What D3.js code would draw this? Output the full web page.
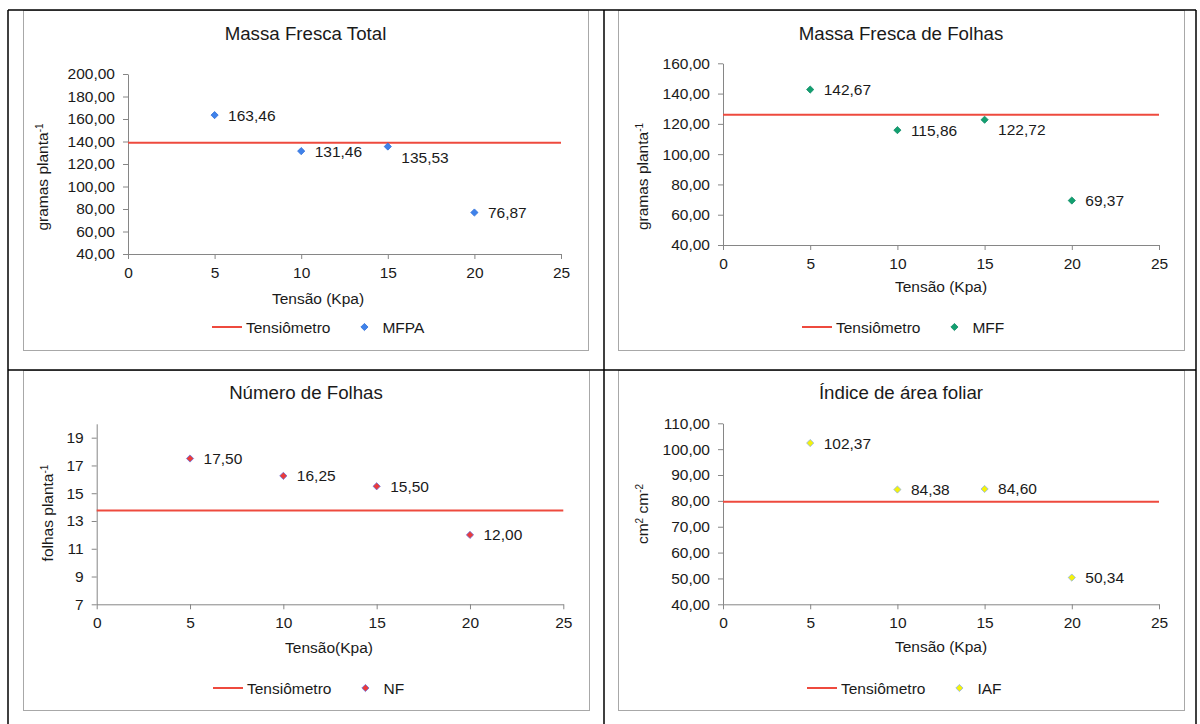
<!DOCTYPE html>
<html>
<head>
<meta charset="utf-8">
<script src="https://cdn.jsdelivr.net/npm/d3@7/dist/d3.min.js"></script>
<style>
  html, body { margin: 0; padding: 0; background: #ffffff; }
  svg { display: block; font-family: "Liberation Sans", Arial, sans-serif; }
</style>
</head>
<body>
<svg id="chart" width="1200" height="724"></svg>
<script>
// ---- data ----
const tensao = [5, 10, 15, 20];
const xTicks = [0, 5, 10, 15, 20, 25];

const mfpaValues = [163.46, 131.46, 135.53, 76.87];
const mffValues  = [142.67, 115.86, 122.72, 69.37];
const nfValues   = [17.50, 16.25, 15.50, 12.00];
const iafValues  = [102.37, 84.38, 84.60, 50.34];

// reference level of the tensiometer-managed treatment, per chart
const tensiometroLevels = [139.0, 126.0, 13.75, 79.7];

const chartTitles = ["Massa Fresca Total", "Massa Fresca de Folhas", "Número de Folhas", "Índice de área foliar"];
const seriesNames = ["MFPA", "MFF", "NF", "IAF"];
const xAxisTitles = ["Tensão (Kpa)", "Tensão (Kpa)", "Tensão(Kpa)", "Tensão (Kpa)"];
const legendLineName = "Tensiômetro";

const yTicksMFPA = [40, 60, 80, 100, 120, 140, 160, 180, 200];
const yTicksMFF  = [40, 60, 80, 100, 120, 140, 160];
const yTicksNF   = [7, 9, 11, 13, 15, 17, 19];
const yTicksIAF  = [40, 50, 60, 70, 80, 90, 100, 110];

// ---- formatting (Portuguese decimal comma) ----
const ptBR = d3.formatLocale({ decimal: ",", thousands: ".", grouping: [3], currency: ["R$", ""] });
const fmt2 = ptBR.format(".2f");
const fmt0 = ptBR.format("d");

// ---- layout and styling of each panel ----
const panels = [
  {
    values: mfpaValues, yTicks: yTicksMFPA, yDomain: [40, 200], tickFmt: fmt2,
    area: [23, 10, 588, 350], plot: [128, 74, 561, 254],
    titleY: 40, xTitleX: 318, xTitleY: 304, yTitle: { x: 48, y: 177, main: "gramas planta", sup: [["-1", "super"]] },
    legendX: 212, legendY: 327,
    marker: { fill: "#3f82ea", stroke: "#2f6fd8" },
    labelDy: [0, 0, 10.5, 0]
  },
  {
    values: mffValues, yTicks: yTicksMFF, yDomain: [40, 160], tickFmt: fmt2,
    area: [618, 10, 1184, 350], plot: [723, 63.3, 1159, 245],
    titleY: 39.5, xTitleX: 941, xTitleY: 291.5, yTitle: { x: 648, y: 176.5, main: "gramas planta", sup: [["-1", "super"]] },
    legendX: 802, legendY: 327,
    marker: { fill: "#12a06f", stroke: "#118a68" },
    labelDy: [0, 0, 9.5, 0]
  },
  {
    values: nfValues, yTicks: yTicksNF, yDomain: [7, 20], tickFmt: fmt0,
    area: [23, 370, 589, 710], plot: [96.7, 423.8, 563.3, 604.3],
    titleY: 399, xTitleX: 329, xTitleY: 653, yTitle: { x: 53, y: 513, main: "folhas planta", sup: [["-1", "super"]] },
    legendX: 213, legendY: 688,
    marker: { fill: "#ea3b3b", stroke: "#6b6fd8" },
    labelDy: [0, 0, 0, 0]
  },
  {
    values: iafValues, yTicks: yTicksIAF, yDomain: [40, 110], tickFmt: fmt2,
    area: [618, 370, 1184, 710], plot: [723, 423.3, 1159, 604.3],
    titleY: 399, xTitleX: 941, xTitleY: 651.5, yTitle: { x: 648, y: 514, main: "cm", sup: [["2", "super"], [" cm", null], ["-2", "super"]] },
    legendX: 807, legendY: 688,
    marker: { fill: "#f4f20a", stroke: "#8fb3e6" },
    labelDy: [0, 0, 0, 0]
  }
];

const TEXT = "#1a1a1a";
const AXIS = "#868686";
const RED = "#ee4a3e";
const FS = 15.5;

const svg = d3.select("#chart");
svg.append("rect").attr("width", 1200).attr("height", 724).attr("fill", "#ffffff");

const diamond = r => `M0,${-r}L${r},0L0,${r}L${-r},0Z`;

panels.forEach((p, i) => {
  const g = svg.append("g");
  const [ax0, ay0, ax1, ay1] = p.area;
  const [px0, py0, px1, py1] = p.plot;

  // chart area frame
  g.append("rect")
    .attr("x", ax0 + 0.5).attr("y", ay0 + 0.5)
    .attr("width", ax1 - ax0).attr("height", ay1 - ay0)
    .attr("fill", "#ffffff").attr("stroke", "#a8a8a8").attr("stroke-width", 1);

  const x = d3.scaleLinear().domain([0, 25]).range([px0, px1]);
  const y = d3.scaleLinear().domain(p.yDomain).range([py1, py0]);

  // title
  g.append("text")
    .attr("x", (ax0 + ax1) / 2).attr("y", p.titleY)
    .attr("text-anchor", "middle").attr("font-size", 18.7).attr("fill", TEXT)
    .text(chartTitles[i]);

  // axes
  const yAxis = d3.axisLeft(y).tickValues(p.yTicks).tickFormat(p.tickFmt)
    .tickSize(5).tickSizeOuter(0).tickPadding(8);
  const xAxis = d3.axisBottom(x).tickValues(xTicks).tickFormat(fmt0)
    .tickSize(5).tickSizeOuter(0).tickPadding(8);

  const gy = g.append("g").attr("transform", `translate(${px0},0)`).call(yAxis);
  const gx = g.append("g").attr("transform", `translate(0,${py1})`).call(xAxis);
  [gx, gy].forEach(a => {
    a.selectAll(".domain").attr("stroke", AXIS);
    a.selectAll(".tick line").attr("stroke", AXIS);
    a.selectAll("text").attr("fill", TEXT).attr("font-size", FS)
      .attr("font-family", "'Liberation Sans', Arial, sans-serif");
  });

  // axis titles
  g.append("text")
    .attr("x", p.xTitleX).attr("y", p.xTitleY)
    .attr("text-anchor", "middle").attr("font-size", FS).attr("fill", TEXT)
    .text(xAxisTitles[i]);

  const yt = g.append("text")
    .attr("transform", `translate(${p.yTitle.x},${p.yTitle.y}) rotate(-90)`)
    .attr("text-anchor", "middle").attr("font-size", FS).attr("fill", TEXT);
  yt.append("tspan").text(p.yTitle.main);
  p.yTitle.sup.forEach(([s, shift]) => {
    const t = yt.append("tspan").text(s);
    if (shift) t.attr("font-size", 10).attr("baseline-shift", "super");
  });

  // tensiometer reference line
  g.append("line")
    .attr("x1", x(0)).attr("x2", x(25))
    .attr("y1", y(tensiometroLevels[i])).attr("y2", y(tensiometroLevels[i]))
    .attr("stroke", RED).attr("stroke-width", 2);

  // points and value labels
  const pts = tensao.map((t, k) => ({ t, v: p.values[k], dy: p.labelDy[k] }));
  g.selectAll("path.pt").data(pts).join("path")
    .attr("class", "pt")
    .attr("transform", d => `translate(${x(d.t)},${y(d.v)})`)
    .attr("d", diamond(3.6))
    .attr("fill", p.marker.fill).attr("stroke", p.marker.stroke).attr("stroke-width", 0.8);

  g.selectAll("text.lbl").data(pts).join("text")
    .attr("class", "lbl")
    .attr("x", d => x(d.t) + 13.5)
    .attr("y", d => y(d.v) + d.dy + 5.5)
    .attr("font-size", FS).attr("fill", TEXT)
    .text(d => fmt2(d.v));

  // legend
  const lg = g.append("g").attr("transform", `translate(${p.legendX},${p.legendY})`);
  lg.append("line").attr("x1", 0).attr("x2", 30).attr("y1", 0).attr("y2", 0)
    .attr("stroke", RED).attr("stroke-width", 2);
  const lt = lg.append("text").attr("x", 34).attr("y", 5.5)
    .attr("font-size", FS).attr("fill", TEXT).text(legendLineName);
  const endX = 34 + lt.node().getComputedTextLength();
  lg.append("path").attr("transform", `translate(${endX + 34},0)`)
    .attr("d", diamond(3.6))
    .attr("fill", p.marker.fill).attr("stroke", p.marker.stroke).attr("stroke-width", 0.8);
  lg.append("text").attr("x", endX + 52).attr("y", 5.5)
    .attr("font-size", FS).attr("fill", TEXT).text(seriesNames[i]);
});

// surrounding table rules
const rules = svg.append("g").attr("stroke", "#000000").attr("stroke-width", 1.5);
rules.append("line").attr("x1", 8).attr("x2", 1196).attr("y1", 10).attr("y2", 10);
rules.append("line").attr("x1", 8).attr("x2", 1196).attr("y1", 370).attr("y2", 370);
rules.append("line").attr("x1", 8).attr("x2", 8).attr("y1", 10).attr("y2", 724);
rules.append("line").attr("x1", 604).attr("x2", 604).attr("y1", 10).attr("y2", 724);
rules.append("line").attr("x1", 1196).attr("x2", 1196).attr("y1", 10).attr("y2", 724);
</script>
</body>
</html>
